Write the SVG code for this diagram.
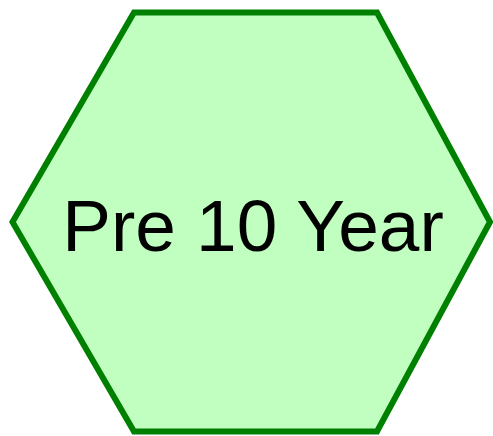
<svg xmlns="http://www.w3.org/2000/svg" width="493" height="436" viewBox="0 0 493 436">
<style>
.hex{fill:#c0ffc0;stroke:#008000;stroke-width:6;stroke-linejoin:miter}
.lbl{font-family:"Liberation Sans",Arial,sans-serif;font-size:73px;fill:#000;text-anchor:middle}
</style>
<g id="node-pre10year">
<polygon class="hex" points="134,12.5 377,12.5 490,222 377,431.5 134,431.5 12.5,222"/>
<text class="lbl" x="253" y="251">Pre 10 Year</text>
</g>
<g id="connectors"/>
</svg>
